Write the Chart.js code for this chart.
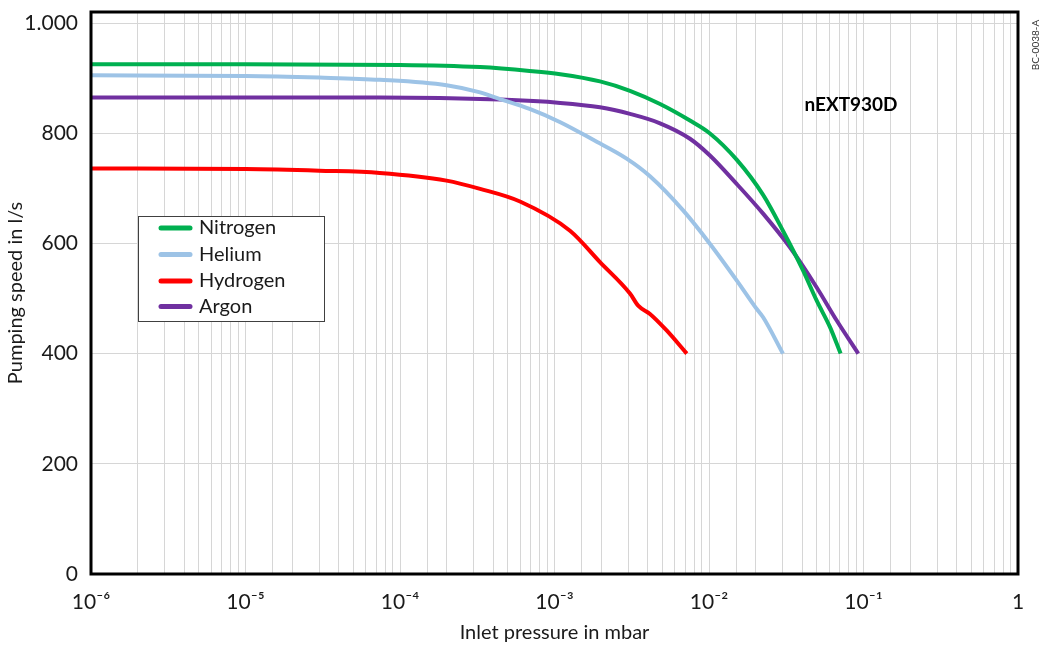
<!DOCTYPE html>
<html><head><meta charset="utf-8">
<script src="https://cdn.jsdelivr.net/npm/chart.js@4.4.1/dist/chart.umd.min.js"></script>
<style>html,body{margin:0;padding:0;background:#fff}#wrap{width:1045px;height:651px;position:relative}</style>
</head><body><div id="wrap"><canvas id="c" width="1045" height="651"></canvas></div>
<script>
const seriesNames = ['Nitrogen', 'Helium', 'Hydrogen', 'Argon'];
const seriesColors = ['#00B050', '#9DC3E6', '#FF0000', '#7030A0'];

const nitrogenP = [1e-6, 1e-5, 1e-4, 3.3e-4, 6.9e-4, 1.09e-3, 1.97e-3, 3.08e-3, 4.82e-3, 7.53e-3, 1.01e-2, 1.51e-2, 2.24e-2, 3.01e-2, 4.06e-2, 4.98e-2, 6.07e-2, 7.11e-2];
const nitrogenS = [925, 925, 924, 920, 913, 907, 894, 877, 853, 823, 800, 752, 688, 623, 551, 496, 448, 400];

const heliumP = [1e-6, 1e-5, 3e-5, 7.4e-5, 2e-4, 3.3e-4, 4.44e-4, 6.9e-4, 1.09e-3, 1.78e-3, 2.93e-3, 4.15e-3, 6.8e-3, 1.01e-2, 1.51e-2, 2.0e-2, 2.24e-2, 3.01e-2];
const heliumS = [905, 904, 901, 897, 887, 874, 862, 844, 820, 788, 754, 722, 660, 600, 533, 484, 466, 400];

const hydrogenP = [1e-6, 1e-5, 3e-5, 7.4e-5, 2e-4, 3.3e-4, 5.98e-4, 1.26e-3, 1.97e-3, 3.08e-3, 3.48e-3, 4.15e-3, 5.32e-3, 7.18e-3];
const hydrogenS = [736, 735, 732, 728, 714, 699, 676, 623, 566, 509, 487, 472, 442, 400];

const argonP = [1e-6, 1e-5, 7.4e-5, 4.44e-4, 1.09e-3, 1.97e-3, 3.08e-3, 4.82e-3, 7.53e-3, 1.01e-2, 1.51e-2, 2.24e-2, 3.34e-2, 4.98e-2, 6.71e-2, 9.25e-2];
const argonS = [865, 865, 865, 861, 855, 847, 835, 818, 790, 760, 708, 654, 593, 520, 460, 400];

const yTicks = [0, 200, 400, 600, 800, 1000];
const xDecadeLabels = {'-6': '10⁻⁶', '-5': '10⁻⁵', '-4': '10⁻⁴', '-3': '10⁻³', '-2': '10⁻²', '-1': '10⁻¹', '0': '1'};
const yTickLabels = ['0', '200', '400', '600', '800', '1.000'];
const xTitle = 'Inlet pressure in mbar';
const yTitle = 'Pumping speed in l/s';
const modelLabel = 'nEXT930D';
const docCode = 'BC-0038-A';

const allP = [nitrogenP, heliumP, hydrogenP, argonP];
const allS = [nitrogenS, heliumS, hydrogenS, argonS];

const FONT = 'Lato, "Open Sans", sans-serif';
const TXT = '#1a1a1a';

const datasets = seriesNames.map((name, i) => ({
  label: name,
  data: allP[i].map((p, j) => ({x: p, y: allS[i][j]})),
  borderColor: seriesColors[i],
  backgroundColor: seriesColors[i],
  borderWidth: 4,
  pointRadius: 0,
  cubicInterpolationMode: 'monotone',
  fill: false
}));

const extras = {
  id: 'extras',
  afterDatasetsDraw(chart) {
    const {ctx, chartArea: a} = chart;
    ctx.save();
    ctx.strokeStyle = '#000';
    ctx.lineWidth = 3;
    ctx.strokeRect(a.left, a.top, a.right - a.left, a.bottom - a.top);
    const lx = 138, ly = 216, lw = 186, lh = 105;
    ctx.fillStyle = '#fff';
    ctx.fillRect(lx, ly, lw, lh);
    ctx.strokeStyle = '#404040';
    ctx.lineWidth = 1;
    ctx.strokeRect(lx + 0.5, ly + 0.5, lw, lh);
    const rows = [228, 254.5, 281, 306.5];
    chart.data.datasets.forEach((ds, i) => {
      ctx.strokeStyle = ds.borderColor;
      ctx.lineWidth = 5;
      ctx.lineCap = 'round';
      ctx.beginPath();
      ctx.moveTo(161, rows[i]);
      ctx.lineTo(190, rows[i]);
      ctx.stroke();
      ctx.fillStyle = TXT;
      ctx.font = '20px ' + FONT;
      ctx.textBaseline = 'middle';
      ctx.textAlign = 'left';
      ctx.fillText(ds.label, 199, rows[i]);
    });
    ctx.restore();
  },
  afterDraw(chart) {
    const ctx = chart.ctx;
    ctx.save();
    ctx.fillStyle = '#000';
    ctx.font = 'bold 19px ' + FONT;
    ctx.textAlign = 'center';
    ctx.textBaseline = 'middle';
    ctx.fillText(modelLabel, 851, 105);
    ctx.translate(1036, 45);
    ctx.rotate(-Math.PI / 2);
    ctx.font = '10px ' + FONT;
    ctx.fillStyle = '#333';
    ctx.fillText(docCode, 0, 0);
    ctx.restore();
  }
};

new Chart(document.getElementById('c'), {
  type: 'line',
  data: {datasets},
  options: {
    responsive: false,
    devicePixelRatio: 1,
    animation: false,
    layout: {padding: {left: 0, top: 0, right: 27, bottom: 0}},
    plugins: {legend: {display: false}, tooltip: {enabled: false}},
    scales: {
      x: {
        type: 'logarithmic',
        min: 1e-6,
        max: 1,
        afterFit(s) { s.height = 77; },
        grid: {color: '#d6d6d6', lineWidth: 1, drawTicks: false},
        border: {display: false},
        ticks: {
          autoSkip: false,
          maxRotation: 0,
          padding: 16,
          color: TXT,
          font: {family: FONT, size: 21},
          callback(v) {
            const e = Math.log10(v);
            const r = Math.round(e);
            if (Math.abs(e - r) < 1e-9 && xDecadeLabels[String(r)] !== undefined) return xDecadeLabels[String(r)];
            return '';
          }
        },
        title: {display: true, text: xTitle, color: TXT, font: {family: FONT, size: 20}, padding: {top: 0, bottom: 6}}
      },
      y: {
        min: 0,
        max: 1020,
        bounds: 'data',
        afterFit(s) { s.width = 91; s.paddingTop = 12; },
        afterBuildTicks(s) { s.ticks = yTicks.map(v => ({value: v})); },
        grid: {color: '#d6d6d6', lineWidth: 1, drawTicks: false},
        border: {display: false},
        ticks: {
          autoSkip: false,
          padding: 13,
          color: TXT,
          font: {family: FONT, size: 21},
          callback(v, i) { return yTickLabels[yTicks.indexOf(Math.round(v))] ?? ''; }
        },
        title: {display: true, text: yTitle, color: TXT, font: {family: FONT, size: 20}, padding: {top: 4, bottom: 0}}
      }
    }
  },
  plugins: [extras]
});
</script>
</body></html>
